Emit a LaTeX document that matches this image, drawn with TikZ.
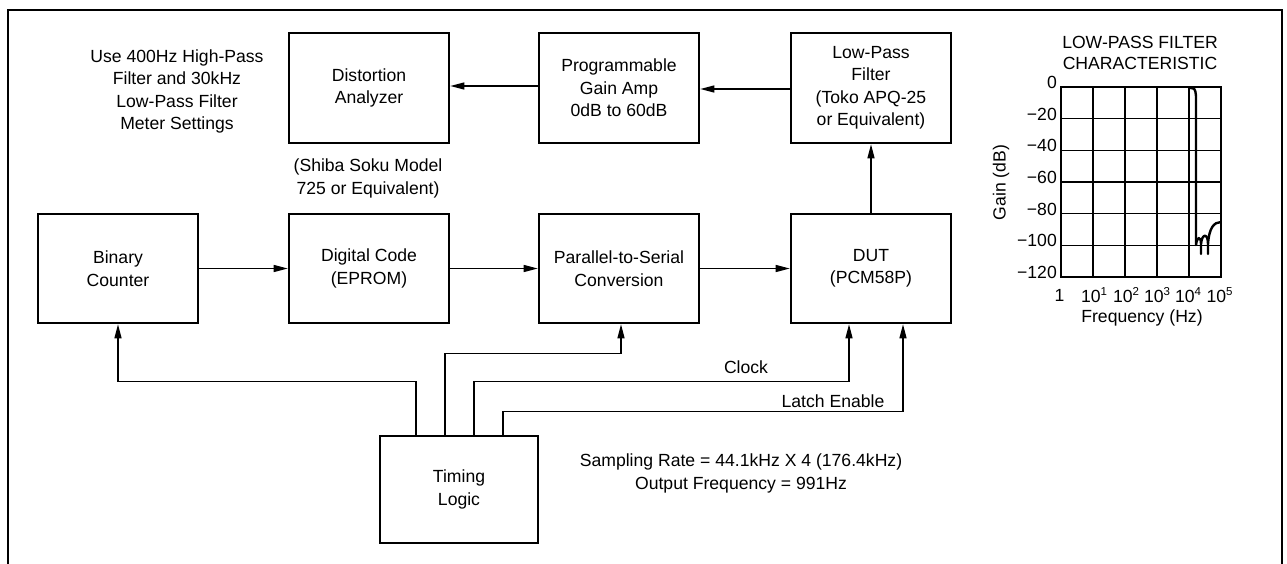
\documentclass[tikz,border=0pt]{standalone}
\usepackage{fontspec}
\setmainfont{Liberation Sans}
\usetikzlibrary{arrows.meta}
\newcommand\supnum[1]{\raisebox{0.42em}{\fontsize{11.5}{11.5}\selectfont #1}}
\begin{document}
\begin{tikzpicture}[x=1pt,y=-1pt,
  every node/.style={font=\fontsize{17.6}{22.5}\selectfont},
  blk/.style={draw, line width=2.6pt, minimum width=160pt, minimum height=110pt, align=center, inner sep=0pt},
  conn/.style={line width=1.3pt},
  arr/.style={conn, -{Triangle[length=14pt,width=7pt]}},
  lbl/.style={align=center, inner sep=0pt},
  gridln/.style={line width=1.3pt},
  tick/.style={inner sep=0pt}
]
\useasboundingbox (0,0) rectangle (1287,563);
% outer frame
\draw[line width=2pt] (8,575) -- (8,10) -- (1282,10) -- (1282,575);

% top row
\node[blk] (dist) at (369,88) {Distortion\\Analyzer};
\node[blk] (pga) at (619,88) {Programmable\\Gain Amp\\0dB to 60dB};
\node[blk] (lpf) at (871,88) {Low-Pass\\Filter\\(Toko APQ-25\\or Equivalent)};
% middle row
\node[blk, minimum height=109pt] (bin) at (118,268.5) {Binary\\Counter};
\node[blk, minimum height=109pt] (dig) at (369,268.5) {Digital Code\\(EPROM)};
\node[blk, minimum height=109pt] (p2s) at (619,268.5) {Parallel-to-Serial\\Conversion};
\node[blk, minimum height=109pt] (dut) at (871,268.5) {DUT\\(PCM58P)};
% timing
\node[blk, minimum width=158pt, minimum height=107pt] (tim) at (459,489.5) {Timing\\Logic};

% free texts
\node[lbl] (note) at (177,91.5) {Use 400Hz High-Pass\\Filter and 30kHz\\Low-Pass Filter\\Meter Settings};
\node[lbl] (shiba) at (368,178.5) {(Shiba Soku Model\\725 or Equivalent)};
\node[lbl] (samp) at (741,473.5) {Sampling Rate = 44.1kHz X 4 (176.4kHz)\\Output Frequency = 991Hz};
\node[lbl] (clk) at (746,367) {Clock};
\node[lbl] (le) at (833,401) {Latch Enable};

% signal chain
\draw[arr] (bin.east) -- (dig.west);
\draw[arr] (dig.east) -- (p2s.west);
\draw[arr] (p2s.east) -- (dut.west);
\draw[arr] (dut.north) -- (lpf.south);
\draw[arr] ([yshift=-1pt]lpf.west) -- ([yshift=-1pt]pga.east);
\draw[arr] ([yshift=2pt]pga.west) -- ([yshift=2pt]dist.east);

% timing lines
\draw[arr] ([xshift=-43pt]tim.north) -- ++(0,-53) -| (bin.south);
\draw[arr] ([xshift=-14pt]tim.north) -- ++(0,-81) -| ([xshift=2pt]p2s.south);
\draw[arr] ([xshift=15pt]tim.north) -- ++(0,-53) -| ([xshift=-22pt]dut.south);
\draw[arr] ([xshift=44pt]tim.north) -- ++(0,-23) -| ([xshift=32pt]dut.south);

% chart
\node[lbl] (ct1) at (1140,42) {LOW-PASS FILTER};
\node[lbl] (ct2) at (1140,63.5) {CHARACTERISTIC};
\foreach \i in {1,2,3,4} \draw[gridln] (1061+32*\i,87) -- (1061+32*\i,277);
\foreach \i in {1,2,3,4,5} \draw[gridln] (1061,87+31.667*\i) -- (1221,87+31.667*\i);
\draw[line width=2.8pt] (1061,87) rectangle (1221,277);
\foreach \v [count=\i from 0] in {0,−20,−40,−60,−80,−100,−120}
  \node[tick, anchor=east] at (1057,{82.5+31.667*\i}) {\v};
\node[tick] at (1059.5,295) {1};
\node[tick] at (1094,295) {10\supnum{1}};
\node[tick] at (1126,295) {10\supnum{2}};
\node[tick] at (1157,295) {10\supnum{3}};
\node[tick] at (1188,295) {10\supnum{4}};
\node[tick] at (1219.5,295) {10\supnum{5}};
\node[lbl] (fx) at (1142,318) {Frequency (Hz)};
\node[lbl, rotate=90] (gy) at (1001,182.5) {Gain (dB)};
\draw[line width=2.4pt, line join=round]
  (1188,88) .. controls (1195,88) .. (1196,96) -- (1196,245)
  .. controls (1197,236) and (1201,236) .. (1201,244) -- (1201,254) -- (1201,244)
  .. controls (1202,233) and (1208,233) .. (1208,244) -- (1208,254) -- (1208,244)
  .. controls (1209,228) and (1214,222) .. (1221,222);
\end{tikzpicture}
\end{document}
